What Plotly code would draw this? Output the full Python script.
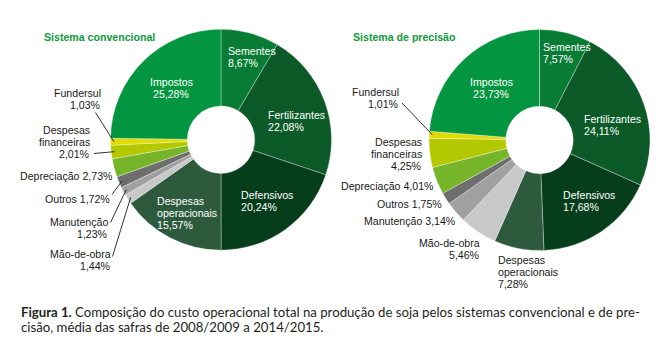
import math
import plotly.graph_objects as go

W, H = 660, 347

# Cost categories, clockwise from 12 o'clock
categories = ["Sementes", "Fertilizantes", "Defensivos", "Despesas operacionais",
              "Mão-de-obra", "Manutenção", "Outros", "Depreciação",
              "Despesas financeiras", "Fundersul", "Impostos"]
conv_values = [8.67, 22.08, 20.24, 15.57, 1.44, 1.23, 1.72, 2.73, 2.01, 1.03, 25.28]
prec_values = [7.57, 24.11, 17.68, 7.28, 5.46, 3.14, 1.75, 4.01, 4.25, 1.01, 23.73]
slice_colors = ["#087b34", "#0b5a27", "#063d1b", "#2d5a3c", "#c8c8c8", "#a0a0a0",
                "#6e6e6e", "#76b52a", "#b4c800", "#e0db00", "#03953f"]
titles = ["Sistema convencional", "Sistema de precisão"]
caption_lines = [
    "<b>Figura 1.</b> Composição do custo operacional total na produção de soja "
    "pelos sistemas convencional e de pre-",
    "cisão, média das safras de 2008/2009 a 2014/2015.",
]

# Pie geometry in pixels: centre x, centre y, radius
PIES = [(221.0, 139.7, 110.5), (539.5, 140.0, 110.5)]
HOLE = 0.305
LINE_H = 11.9
LABEL_FONT = "Liberation Sans, Arial, sans-serif"
FS = 10.6


def px(x):
    return x / W


def py(y):
    return 1 - y / H


def fmt(v):
    return f"{v:.2f}".replace(".", ",") + "%"


# Label layout: category -> (mode, x, y, align, colour, leader start or None)
# mode "stack": name words on separate lines, then value; "inline": one line;
# "pair": full name on one line and value below
LABELS = [
    {
        "Sementes": ("pair", 227, 50.7, "left", "white", None),
        "Fertilizantes": ("pair", 267, 115, "left", "white", None),
        "Defensivos": ("pair", 240, 195, "left", "white", None),
        "Despesas operacionais": ("stack", 156, 201, "left", "white", None),
        "Mão-de-obra": ("pair", 112, 254.3, "right", "#1a1a1a", (112.5, 256.5)),
        "Manutenção": ("pair", 108.5, 221.7, "right", "#1a1a1a", (110.5, 222.5)),
        "Outros": ("inline", 111, 199, "right", "#1a1a1a", (112, 194.5)),
        "Depreciação": ("inline", 113.5, 175.7, "right", "#1a1a1a", None),
        "Despesas financeiras": ("stack", 91, 130, "right", "#1a1a1a", (94, 153.5)),
        "Fundersul": ("pair", 102, 92.7, "right", "#1a1a1a", (95.5, 112.5)),
        "Impostos": ("pair", 171, 81.7, "center", "white", None),
    },
    {
        "Sementes": ("pair", 542, 46.7, "left", "white", None),
        "Fertilizantes": ("pair", 583.3, 119, "left", "white", None),
        "Defensivos": ("pair", 561.7, 195, "left", "white", None),
        "Despesas operacionais": ("stack", 497, 260, "left", "#1a1a1a", None),
        "Mão-de-obra": ("pair", 481, 242.7, "right", "#1a1a1a", None),
        "Manutenção": ("inline", 457, 221, "right", "#1a1a1a", None),
        "Outros": ("inline", 443.3, 204, "right", "#1a1a1a", None),
        "Depreciação": ("inline", 435, 185.7, "right", "#1a1a1a", None),
        "Despesas financeiras": ("stack", 423.3, 142.3, "right", "#1a1a1a", None),
        "Fundersul": ("pair", 400, 91.7, "right", "#1a1a1a", (402, 103)),
        "Impostos": ("pair", 491.7, 81.7, "center", "white", None),
    },
]

fig = go.Figure()
annotations = []
shapes = []

for k, values in enumerate([conv_values, prec_values]):
    cx, cy, r = PIES[k]
    fig.add_trace(go.Pie(
        labels=categories,
        values=values,
        sort=False,
        direction="clockwise",
        rotation=0,
        hole=HOLE,
        textinfo="none",
        hoverinfo="label+value",
        marker=dict(colors=slice_colors,
                    line=dict(color="rgba(255,255,255,0.55)", width=0.6)),
        domain=dict(x=[px(cx - r), px(cx + r)], y=[py(cy + r), py(cy - r)]),
        showlegend=False,
    ))

    total = sum(values)
    cum = 0.0
    for name, v in zip(categories, values):
        mid = (cum + v / 2) / total * 2 * math.pi
        cum += v
        mode, lx, ly, align, color, lead = LABELS[k][name]
        if mode == "stack":
            lines = name.split(" ") + [fmt(v)]
        elif mode == "inline":
            lines = [f"{name} {fmt(v)}"]
        else:
            lines = [name, fmt(v)]
        for i, t in enumerate(lines):
            annotations.append(dict(
                x=px(lx), y=py(ly + i * LINE_H), xref="paper", yref="paper",
                text=t, showarrow=False, xanchor=align, yanchor="middle",
                align=align, borderpad=0,
                font=dict(family=LABEL_FONT, size=FS, color=color),
            ))
        if lead is not None:
            tx = cx + 0.97 * r * math.sin(mid)
            ty = cy - 0.97 * r * math.cos(mid)
            shapes.append(dict(
                type="line", xref="paper", yref="paper",
                x0=px(lead[0]), y0=py(lead[1]), x1=px(tx), y1=py(ty),
                line=dict(color="#1a1a1a", width=0.9),
            ))

# Chart titles
for k, (tx, ty) in enumerate([(42.5, 37.3), (351.5, 37.3)]):
    annotations.append(dict(
        x=px(tx), y=py(ty), xref="paper", yref="paper", text=f"<b>{titles[k]}</b>",
        showarrow=False, xanchor="left", yanchor="middle", borderpad=0,
        font=dict(family=LABEL_FONT, size=10.6, color="#119a3e"),
    ))

# Figure caption
for i, (t, y) in enumerate(zip(caption_lines, [311.8, 326.5])):
    annotations.append(dict(
        x=px(19.5), y=py(y), xref="paper", yref="paper", text=t,
        showarrow=False, xanchor="left", yanchor="middle", borderpad=0,
        font=dict(family="Lato, sans-serif", size=13.2, color="#231f20"),
    ))

fig.update_layout(
    width=W, height=H,
    margin=dict(l=0, r=0, t=0, b=0),
    paper_bgcolor="white", plot_bgcolor="white",
    annotations=annotations, shapes=shapes,
)

fig.write_html("out.html")
